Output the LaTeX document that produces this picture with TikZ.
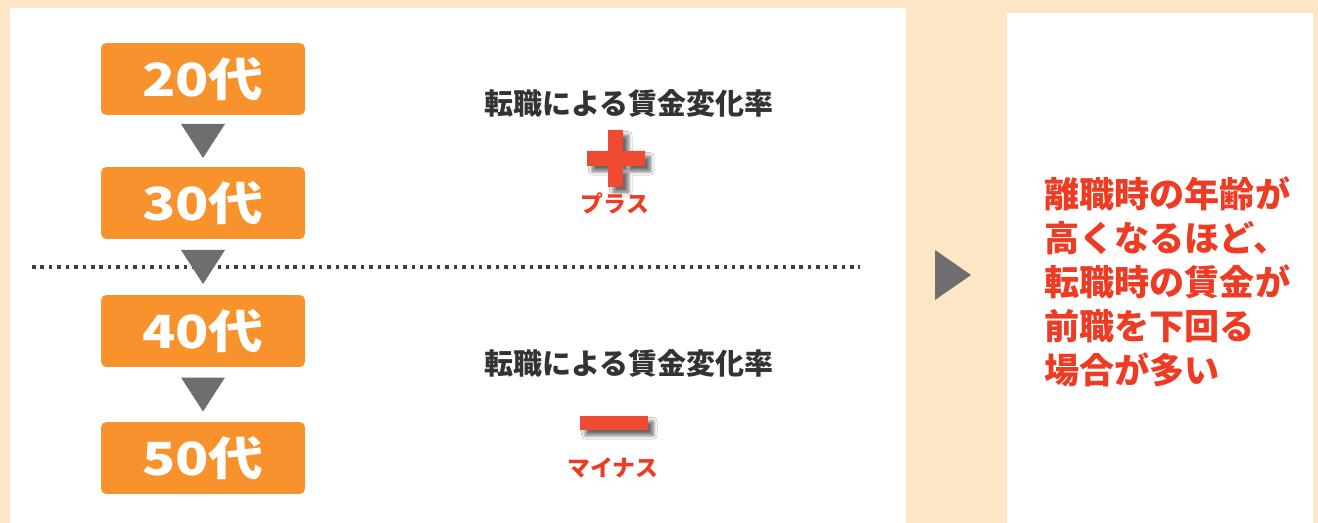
\documentclass[tikz,border=0pt]{standalone}
\usepackage{fontspec}
\setmainfont{Noto Sans CJK JP}
\usetikzlibrary{calc}
\usetikzlibrary{shadows.blur}
\usetikzlibrary{positioning}
\definecolor{peach}{HTML}{FDE6C6}
\definecolor{agebox}{HTML}{F7922C}
\definecolor{arrowgray}{HTML}{6E6E6E}
\definecolor{signred}{HTML}{EF4B32}
\definecolor{textred}{HTML}{EE3B24}
\definecolor{headgray}{HTML}{333333}

\begin{document}
\begin{tikzpicture}[x=0.02cm, y=-0.02cm]
\tikzset{age/.style = {rectangle, rounded corners=3pt, fill=agebox, text=white, minimum width=4.08cm, minimum height=1.44cm, inner sep=0pt, font=\bfseries\fontsize{26}{26}\selectfont}}
\tikzset{tri/.style = {fill=arrowgray}}
\tikzset{rate/.style = {text=headgray, font=\bfseries\fontsize{16.5}{16.5}\selectfont}}
\tikzset{sign/.style = {fill=signred, blur shadow={shadow xshift=3pt, shadow yshift=-3pt, shadow opacity=60, shadow blur steps=6}}}
\tikzset{signlabel/.style = {text=textred, font=\bfseries\fontsize{13}{13}\selectfont}}
\tikzset{dotline/.style = {draw=black!75, line width=2.1pt, dash pattern=on 2pt off 2.8pt}}

% background panels
\fill[peach] (0,0) rectangle (1318,523);
\useasboundingbox (0,0) rectangle (1318,523);
\fill[white] (10,8) rectangle (906,523);
\fill[white] (1007,13) rectangle (1313,523);

\node[age] (a20) at (203,79) {\scalebox{1.2}[1]{20代}};
\node[age] (a30) at (203,203) {\scalebox{1.2}[1]{30代}};
\node[age] (a40) at (203,331) {\scalebox{1.2}[1]{40代}};
\node[age] (a50) at (203,458) {\scalebox{1.2}[1]{50代}};

\draw[dotline] (32,267) -- (860,267);

\foreach \u/\l in {a20/a30, a30/a40, a40/a50}
  {\coordinate (m) at ($(\u.south)!.5!(\l.north)$);
   \fill[tri] ($(m)+(-22,-17)$) -- ($(m)+(22,-17)$) -- ($(m)+(0,17)$) -- cycle;}

\node[rate] (rate up) at (629,103) {転職による賃金変化率};
\node[rate] (rate down) at (629,363) {転職による賃金変化率};

% plus and minus
\path[sign] (587,151) rectangle (645,166) (608,130) rectangle (623,187);
\node[signlabel] (plus label) at (615,203) {プラス};
\node[sign, rectangle, inner sep=0pt, minimum width=1.36cm, minimum height=0.28cm] (minus) at (614,423) {};
\node[signlabel] (minus label) at (613,468) {マイナス};

\fill[tri] (935,250) -- (971,275) -- (935,300) -- cycle;

\node[anchor=west, align=left, text=textred, font=\bfseries\fontsize{20}{25}\selectfont] (result) at (1038,282) {
 離職時の年齢が \\
 高くなるほど、 \\
 転職時の賃金が \\
 前職を下回る \\
 場合が多い
};

\end{tikzpicture}
\end{document}
